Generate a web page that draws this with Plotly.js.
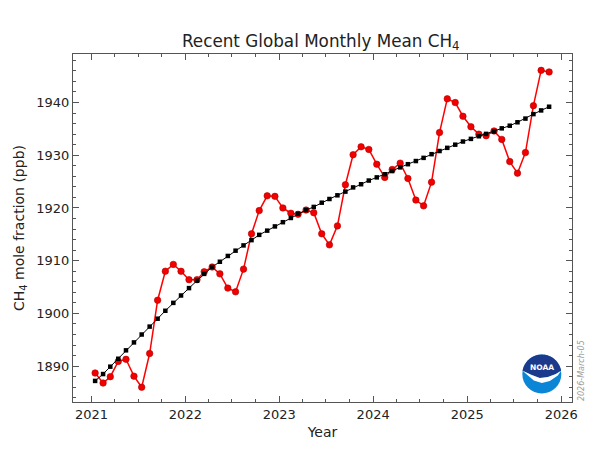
<!DOCTYPE html>
<html>
<head>
<meta charset="utf-8">
<script src="https://cdn.plot.ly/plotly-3.0.1.min.js"></script>
<style>html,body{margin:0;padding:0;background:#fff;}#chart{width:600px;height:451px;}</style>
</head>
<body>
<div id="chart"></div>
<script>
// ---- data ----
const months = [
  '2021-01','2021-02','2021-03','2021-04','2021-05','2021-06','2021-07','2021-08','2021-09','2021-10','2021-11','2021-12',
  '2022-01','2022-02','2022-03','2022-04','2022-05','2022-06','2022-07','2022-08','2022-09','2022-10','2022-11','2022-12',
  '2023-01','2023-02','2023-03','2023-04','2023-05','2023-06','2023-07','2023-08','2023-09','2023-10','2023-11','2023-12',
  '2024-01','2024-02','2024-03','2024-04','2024-05','2024-06','2024-07','2024-08','2024-09','2024-10','2024-11','2024-12',
  '2025-01','2025-02','2025-03','2025-04','2025-05','2025-06','2025-07','2025-08','2025-09','2025-10','2025-11'
];
const monthlyMean = [
  1888.7, 1886.8, 1888.0, 1890.9, 1891.3, 1888.1, 1886.0, 1892.4, 1902.5, 1908.0, 1909.3, 1908.0,
  1906.4, 1906.4, 1907.9, 1908.8, 1907.5, 1904.8, 1904.1, 1908.4, 1915.1, 1919.5, 1922.3, 1922.2,
  1920.0, 1919.0, 1918.8, 1919.6, 1919.1, 1915.1, 1913.0, 1916.6, 1924.4, 1930.1, 1931.6, 1931.1,
  1928.3, 1925.8, 1927.3, 1928.5, 1925.6, 1921.5, 1920.4, 1924.9, 1934.3, 1940.7, 1940.0, 1937.4,
  1935.4, 1934.0, 1933.7, 1934.6, 1933.0, 1928.8, 1926.6, 1930.5, 1939.4, 1946.1, 1945.8
];
const trend = [
  1887.2, 1888.5, 1889.9, 1891.4, 1893.0, 1894.5, 1896.0, 1897.5, 1899.0, 1900.5, 1902.0, 1903.4,
  1904.8, 1906.2, 1907.5, 1908.8, 1909.8, 1910.9, 1911.9, 1912.9, 1913.9, 1914.9, 1915.7, 1916.5,
  1917.3, 1918.1, 1918.9, 1919.6, 1920.2, 1921.0, 1921.7, 1922.4, 1923.1, 1923.9, 1924.5, 1925.2,
  1925.8, 1926.4, 1927.0, 1927.7, 1928.3, 1928.9, 1929.5, 1930.2, 1930.8, 1931.4, 1932.0, 1932.6,
  1933.1, 1933.6, 1934.05, 1934.5, 1935.1, 1935.6, 1936.25, 1936.95, 1937.8, 1938.5, 1939.2
];
const titleText = 'Recent Global Monthly Mean CH<sub>4</sub>';
const xTitle = 'Year';
const yTitle = 'CH<sub>4</sub> mole fraction (ppb)';
const stampText = '2026-March-05';

// ---- drawing ----
const xDates = months.map(m => m + '-15');
const FONT = 'DejaVu Sans, Verdana, sans-serif';
const AX = '#555';

const traces = [
  {
    x: xDates, y: monthlyMean, type: 'scatter', mode: 'lines+markers',
    line: {color: '#ff0000', width: 1.5},
    marker: {symbol: 'circle', size: 6.5, color: '#f20000', line: {color: '#b00000', width: 0.6}},
    hoverinfo: 'x+y', showlegend: false
  },
  {
    x: xDates, y: trend, type: 'scatter', mode: 'lines+markers',
    line: {color: '#000000', width: 1},
    marker: {symbol: 'square', size: 4.5, color: '#000000'},
    hoverinfo: 'x+y', showlegend: false
  }
];

// NOAA logo (pixel-sized shapes anchored in paper coords; pixel offsets with y up)
const L = {l: 73, r: 27.5, t: 53.5, b: 48.5};
const PW = 600 - L.l - L.r, PH = 451 - L.t - L.b;
const cx = (542.3 - L.l) / PW, cy = (402.5 - 374.5) / PH;
const R = 19.5;
function arcPts(a0, a1, n) {
  const pts = [];
  for (let i = 0; i <= n; i++) {
    const a = (a0 + (a1 - a0) * i / n) * Math.PI / 180;
    pts.push([R * Math.cos(a), R * Math.sin(a)]);
  }
  return pts;
}
function toPath(pts) {
  return pts.map((p, i) => (i ? 'L' : 'M') + p[0].toFixed(2) + ',' + p[1].toFixed(2)).join(' ') + ' Z';
}
const gullTop = [[14, 0], [6, -3], [-2, -4], [-10, -1]];
const navyPts = arcPts(170, 10, 40).concat(gullTop);
const birdPts = [[-19.2, 3.4], [-10, -1], [-2, -4], [6, -3], [14, 0], [19.2, 3.4],
                 [16, -1.5], [8, -7], [0, -9], [-8, -6.5], [-15, -0.5]];
const pix = {xref: 'paper', yref: 'paper', xsizemode: 'pixel', ysizemode: 'pixel', xanchor: cx, yanchor: cy, layer: 'above'};
const shapes = [
  Object.assign({type: 'circle', x0: -R, x1: R, y0: -R, y1: R, fillcolor: '#0b86d6', line: {width: 0}}, pix),
  Object.assign({type: 'path', path: toPath(navyPts), fillcolor: '#1c3a8c', line: {width: 0}}, pix),
  Object.assign({type: 'path', path: toPath(birdPts), fillcolor: '#ffffff', line: {width: 0}}, pix)
];

const layout = {
  width: 600, height: 451,
  margin: L,
  paper_bgcolor: '#ffffff', plot_bgcolor: '#ffffff',
  font: {family: FONT, color: '#222'},
  title: {text: titleText, font: {family: FONT, size: 16.8, color: '#222'}, x: 0.4965, xanchor: 'center', y: 1 - 41 / 451, yanchor: 'middle', xref: 'paper', yref: 'container'},
  xaxis: {
    type: 'date', range: ['2020-10-21', '2026-02-12'],
    tick0: '2021-01-01', dtick: 'M12', tickformat: '%Y',
    ticks: 'inside', ticklen: 6, tickwidth: 1, tickcolor: AX,
    showline: true, linecolor: AX, linewidth: 1, mirror: 'allticks',
    showgrid: false, zeroline: false,
    tickfont: {family: FONT, size: 13, color: '#222'},
    minor: {dtick: 'M3', ticks: 'inside', ticklen: 3, tickwidth: 1, tickcolor: AX, showgrid: false},
    title: {text: xTitle, font: {family: FONT, size: 14, color: '#222'}, standoff: 6},
    automargin: false
  },
  yaxis: {
    range: [1883.2, 1949.2], tick0: 1890, dtick: 10,
    ticks: 'inside', ticklen: 6, tickwidth: 1, tickcolor: AX,
    showline: true, linecolor: AX, linewidth: 1, mirror: 'allticks',
    showgrid: false, zeroline: false,
    tickfont: {family: FONT, size: 13, color: '#222'},
    minor: {dtick: 2, ticks: 'inside', ticklen: 3, tickwidth: 1, tickcolor: AX, showgrid: false},
    title: {text: yTitle, font: {family: FONT, size: 14, color: '#222'}, standoff: 8},
    automargin: false
  },
  shapes: shapes,
  annotations: [
    {text: '<b>NOAA</b>', xref: 'paper', yref: 'paper', x: cx, y: cy + 7 / PH, xanchor: 'center', yanchor: 'middle',
     showarrow: false, font: {family: FONT, size: 7.5, color: '#ffffff'}},
    {text: stampText, xref: 'paper', yref: 'paper', x: (582 - L.l) / PW, y: (402.5 - 371) / PH, xanchor: 'center', yanchor: 'middle',
     textangle: -90, showarrow: false, font: {family: FONT, size: 8, color: '#9a9a9a', style: 'italic'}}
  ]
};

Plotly.newPlot('chart', traces, layout, {staticPlot: true, displayModeBar: false});
</script>
</body>
</html>
